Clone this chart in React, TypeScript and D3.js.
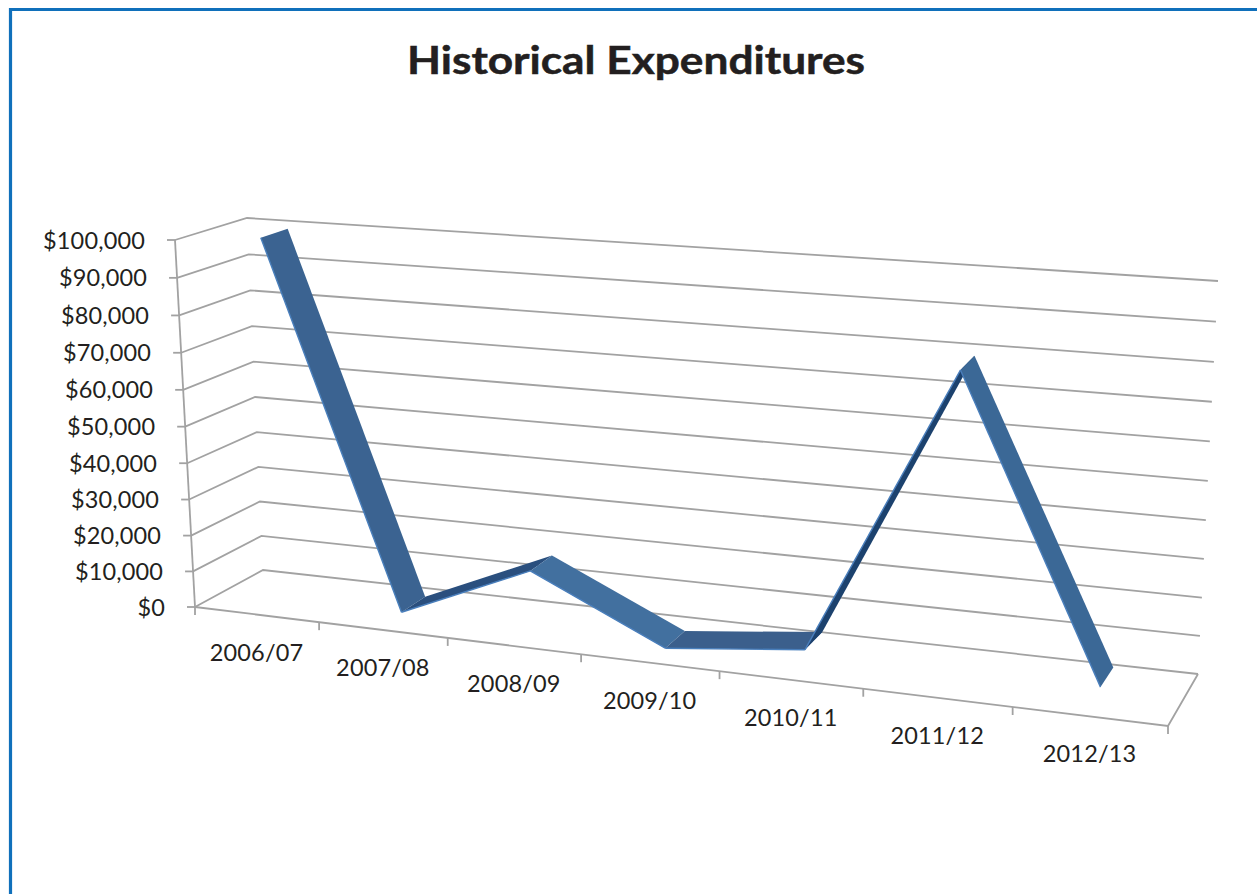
import React from "react";
import * as d3 from "d3";

const categories = ["2006/07", "2007/08", "2008/09", "2009/10", "2010/11", "2011/12", "2012/13"];
const expenditures = [100000, 1500, 17000, 200, 4200, 80000, 3500];
const valueTicks = [0, 10000, 20000, 30000, 40000, 50000, 60000, 70000, 80000, 90000, 100000];
const title = "Historical Expenditures";

// Chart box corners as seen on the page
const W = 1257, H = 894;
const floorFL: [number, number] = [195, 607];
const floorFR: [number, number] = [1168, 726];
const floorBL: [number, number] = [263, 570];
const floorBR: [number, number] = [1198, 674];
const upFL: [number, number] = [-20, -367];
const upFR: [number, number] = [26, -408];
const upBL: [number, number] = [-16, -352];
const upBR: [number, number] = [20, -393];
const K = 1.14;
const KV = 1.035;
const ribbonFront = 0.31, ribbonBack = 0.7;

const vScale = d3.scaleLinear().domain([0, 100000]).range([0, 1]);
const catScale = d3.scaleLinear().domain([0, categories.length]).range([0, 1]);
const persp = (u: number, k: number) => u / (u + k * (1 - u));
const mix = (a: number[], b: number[], t: number) => [a[0] + (b[0] - a[0]) * t, a[1] + (b[1] - a[1]) * t];

function project(cat: number, value: number, depth: number): [number, number] {
  const t = persp(catScale(cat), K);
  const base = mix(mix(floorFL, floorFR, t), mix(floorBL, floorBR, t), depth);
  const up = mix(mix(upFL, upFR, t), mix(upBL, upBR, t), depth);
  const v = persp(vScale(value), KV);
  return [base[0] + up[0] * v, base[1] + up[1] * v];
}

const line = d3.line();
const GRID = "#a2a2a2";
const n = categories.length;
const FONT = "Lato, 'Open Sans', sans-serif";

const segFill = ["#3a6491", "#2a4f7e", "#426f9f", "#3a5f8c", "#1f426e", "#3b6796"];
const edgeFill = "#4a7fbc";

export default function App() {
  const pts = expenditures.map((v, i) => ({
    f: project(i + 0.5, v, ribbonFront),
    b: project(i + 0.5, v, ribbonBack),
  }));
  return (
    <svg width={W} height={H} style={{ position: "fixed", left: 0, top: 0, background: "#fff" }}>
      <defs>
        <filter id="soft" x="-5%" y="-5%" width="110%" height="110%">
          <feGaussianBlur stdDeviation="0.55" />
        </filter>
      </defs>
      <path d="M10.5 894V9.5H1257" fill="none" stroke="#1070bb" strokeWidth={3.2} />
      <text x={636} y={74} textAnchor="middle" fontFamily={FONT} fontWeight={700} fontSize={39} fill="#231f20"
        stroke="#231f20" strokeWidth={0.5} textLength={458} lengthAdjust="spacingAndGlyphs">{title}</text>

      <g fill="none" stroke={GRID} strokeWidth={1.8} filter="url(#soft)">
        {valueTicks.map((v) => (
          <path key={v} d={line([project(0, v, 0), project(0, v, 1), project(n, v, 1)]) ?? ""} />
        ))}
        <path d={line([project(0, 0, 0), project(0, 100000, 0)]) ?? ""} />
        <path d={line([project(0, 0, 0), project(n, 0, 0), project(n, 0, 1)]) ?? ""} />
        {valueTicks.map((v) => {
          const p = project(0, v, 0);
          return <path key={v} d={line([[p[0] - 8, p[1]], p]) ?? ""} />;
        })}
        {d3.range(n + 1).map((i) => {
          const p = project(i, 0, 0);
          return <path key={i} d={line([p, [p[0], p[1] + 8]]) ?? ""} />;
        })}
      </g>

      <g filter="url(#soft)">
        {d3.range(n - 1).map((i) => (
          <g key={i}>
            <path d={(line([pts[i].f, pts[i + 1].f, pts[i + 1].b, pts[i].b]) ?? "") + "Z"} fill={segFill[i]} />
            <path d={line([pts[i].f, pts[i + 1].f]) ?? ""} fill="none" stroke={edgeFill} strokeWidth={1.4} />
          </g>
        ))}
      </g>

      <g fontFamily={FONT} fontSize={23.5} fill="#231f20" letterSpacing={0.15}>
        {valueTicks.map((v) => {
          const p = project(0, v, 0);
          const label = d3.format("$,")(v);
          return (
            <text key={v} x={p[0] - 30} y={p[1] + 8.5} textAnchor="end">{label}</text>
          );
        })}
        {categories.map((c, i) => {
          const p = project(i + 0.5, 0, 0);
          return (
            <text key={c} x={p[0]} y={p[1] + 46} textAnchor="middle">{c}</text>
          );
        })}
      </g>
    </svg>
  );
}
